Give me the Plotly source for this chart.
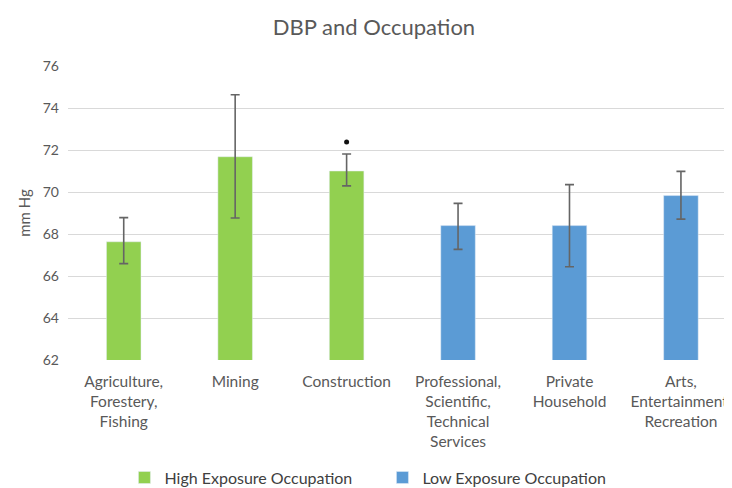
import plotly.graph_objects as go

# values
high_cats = ["Agriculture,<br>Forestery,<br>Fishing", "Mining", "Construction"]
high_means = [67.63, 71.68, 71.0]
high_err_up = [1.15, 2.95, 0.81]
high_err_down = [1.04, 2.92, 0.71]

low_cats = ["Professional,<br>Scientific,<br>Technical<br>Services", "Private<br>Household",
            "Arts,<br>Entertainment,<br>Recreation"]
low_means = [68.40, 68.40, 69.83]
low_err_up = [1.06, 1.95, 1.15]
low_err_down = [1.13, 1.96, 1.12]

sig_cats = ["Construction"]
sig_vals = [72.38]

all_cats = high_cats + low_cats
y_ticks = [62, 64, 66, 68, 70, 72, 74, 76]

text_col = "#595959"
font_family = "Lato, 'Open Sans', sans-serif"

fig = go.Figure()
fig.add_trace(go.Bar(
    x=high_cats, y=high_means, name="High Exposure Occupation",
    marker=dict(color="#92d050"), width=0.31,
    error_y=dict(type="data", array=high_err_up, arrayminus=high_err_down,
                 color="#656565", thickness=1.6, width=4.5),
))
fig.add_trace(go.Bar(
    x=low_cats, y=low_means, name="Low Exposure Occupation",
    marker=dict(color="#5b9bd5"), width=0.31,
    error_y=dict(type="data", array=low_err_up, arrayminus=low_err_down,
                 color="#656565", thickness=1.6, width=4.5),
))
# significance marker
fig.add_trace(go.Scatter(
    x=sig_cats, y=sig_vals, mode="markers", showlegend=False,
    marker=dict(color="#111111", size=5),
))

fig.update_layout(
    width=732, height=488,
    barmode="overlay",
    title=dict(text="DBP and Occupation", x=0.5, xanchor="center", y=0.96, yanchor="middle",
               font=dict(size=22, color=text_col, family=font_family)),
    font=dict(family=font_family, color=text_col, size=14),
    paper_bgcolor="white", plot_bgcolor="white",
    margin=dict(l=60, r=0, t=58, b=136),
    legend=dict(orientation="h", x=0.084, xanchor="left", y=-0.40, yanchor="middle",
                entrywidth=213, font=dict(size=16, color="#404040"),
                itemwidth=30),
)
fig.update_xaxes(
    categoryorder="array", categoryarray=all_cats,
    range=[-0.5, 5.53], showgrid=False, showline=False, ticks="", ticklabelstandoff=10,
    tickfont=dict(size=15.5, color=text_col), tickangle=0,
)
fig.update_yaxes(
    range=[62, 76], tickvals=y_ticks, showgrid=True, gridcolor="#d9d9d9", gridwidth=1,
    zeroline=False, showline=False, ticks="", ticklabelstandoff=8,
    tickfont=dict(size=14, color=text_col),
    title=dict(text="mm Hg", font=dict(size=15, color=text_col), standoff=8),
)

fig.write_html("out.html")
